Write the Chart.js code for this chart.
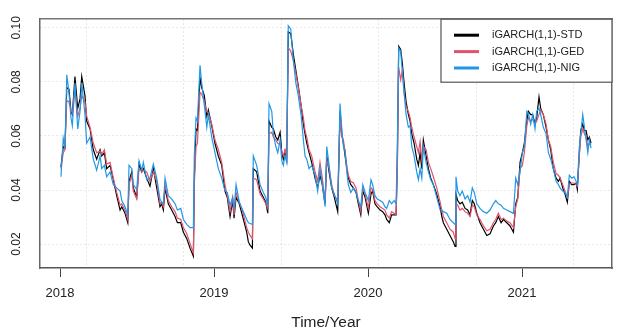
<!DOCTYPE html>
<html>
<head>
<meta charset="utf-8">
<title>iGARCH(1,1) volatility</title>
<script src="https://cdn.jsdelivr.net/npm/chart.js"></script>
<style>
  html, body { margin: 0; padding: 0; background: #fff; }
  canvas { display: block; }
</style>
</head>
<body>
<canvas id="chart" width="619" height="332"></canvas>
<script>
// time in decimal years
var years = [2018.006, 2018.021, 2018.032, 2018.044, 2018.058, 2018.071, 2018.080, 2018.097, 2018.115, 2018.130, 2018.141, 2018.162, 2018.173, 2018.195, 2018.216, 2018.238, 2018.260, 2018.271, 2018.288, 2018.303, 2018.325, 2018.346, 2018.368, 2018.390, 2018.401, 2018.422, 2018.440, 2018.448, 2018.466, 2018.476, 2018.498, 2018.513, 2018.531, 2018.541, 2018.563, 2018.584,
  2018.606, 2018.628, 2018.649, 2018.660, 2018.671, 2018.682, 2018.703, 2018.725, 2018.747, 2018.762, 2018.784, 2018.801, 2018.823, 2018.844, 2018.866, 2018.872, 2018.883, 2018.892, 2018.909, 2018.920, 2018.937, 2018.953, 2018.963, 2018.985, 2019.006, 2019.028, 2019.050, 2019.071, 2019.086, 2019.104, 2019.121, 2019.130, 2019.143, 2019.164, 2019.186, 2019.212,
  2019.223, 2019.234, 2019.249, 2019.255, 2019.277, 2019.299, 2019.320, 2019.336, 2019.349, 2019.357, 2019.375, 2019.385, 2019.401, 2019.414, 2019.429, 2019.440, 2019.450, 2019.461, 2019.472, 2019.482, 2019.498, 2019.515, 2019.531, 2019.547, 2019.565, 2019.580, 2019.591, 2019.602, 2019.617, 2019.634, 2019.656, 2019.673, 2019.688, 2019.703, 2019.721, 2019.732, 2019.747, 2019.764, 2019.781, 2019.803,
  2019.818, 2019.829, 2019.840, 2019.851, 2019.862, 2019.872, 2019.888, 2019.905, 2019.922, 2019.937, 2019.953, 2019.966, 2019.981, 2020.002, 2020.019, 2020.030, 2020.045, 2020.060, 2020.078, 2020.095, 2020.110, 2020.121, 2020.138, 2020.153, 2020.169, 2020.182, 2020.190, 2020.199, 2020.212, 2020.223, 2020.234, 2020.247, 2020.262, 2020.273, 2020.284, 2020.299, 2020.316, 2020.327, 2020.338, 2020.349, 2020.359, 2020.377, 2020.392, 2020.407, 2020.424, 2020.446, 2020.468,
  2020.479, 2020.489, 2020.511, 2020.532, 2020.554, 2020.565, 2020.571, 2020.582, 2020.597, 2020.612, 2020.630, 2020.647, 2020.662, 2020.677, 2020.690, 2020.706, 2020.727, 2020.749, 2020.771, 2020.792, 2020.814, 2020.829, 2020.846, 2020.864, 2020.879, 2020.901, 2020.922, 2020.944, 2020.959, 2020.972, 2020.987, 2021.002, 2021.015,
  2021.031, 2021.041, 2021.056, 2021.069, 2021.084, 2021.095, 2021.110, 2021.121, 2021.138, 2021.156, 2021.171, 2021.186, 2021.203, 2021.221, 2021.236, 2021.247, 2021.264, 2021.279, 2021.294, 2021.307, 2021.323, 2021.338, 2021.351, 2021.359, 2021.372, 2021.381, 2021.394, 2021.405, 2021.416, 2021.427, 2021.437, 2021.448];

var std = [.0485, .0561, .0555, .0779, .0773, .0691, .0679, .0820, .0702, .0737, .0820, .0749, .0655, .0626, .0549, .0514, .0549, .0526, .0538, .0479, .0491, .0438, .0379, .0326, .0338, .0314, .0279, .0432, .0467, .0408, .0373, .0496, .0467, .0479, .0444, .0414,
  .0479, .0408, .0338, .0349, .0326, .0408, .0349, .0326, .0302, .0279, .0279, .0244, .0220, .0185, .0155, .0444, .0626, .0620, .0814, .0779, .0749, .0673, .0696, .0638, .0573, .0526, .0491, .0396, .0373, .0302, .0361, .0296, .0373, .0349, .0302, .0244,
  .0208, .0196, .0185, .0479, .0467, .0396, .0373, .0355, .0314, .0655, .0632, .0626, .0596, .0585, .0614, .0538, .0514, .0544, .0514, .0985, .0979, .0902, .0844, .0785, .0714, .0644, .0608, .0573, .0538, .0502, .0444, .0408, .0455, .0420, .0349, .0526, .0467, .0408, .0373, .0320,
  .0691, .0608, .0573, .0526, .0479, .0444, .0420, .0408, .0391, .0349, .0308, .0396, .0373, .0314, .0385, .0396, .0349, .0338, .0326, .0320, .0308, .0291, .0279, .0308, .0308, .0308, .0491, .0932, .0920, .0867, .0796, .0726, .0679, .0655, .0608, .0573, .0514, .0491, .0538, .0479, .0585, .0526, .0479, .0444, .0420, .0385, .0338,
  .0302, .0279, .0255, .0232, .0208, .0191, .0385, .0361, .0349, .0355, .0332, .0326, .0308, .0361, .0349, .0314, .0279, .0255, .0232, .0238, .0267, .0279, .0302, .0279, .0291, .0279, .0267, .0244, .0349, .0373, .0502, .0538, .0573,
  .0655, .0691, .0679, .0679, .0644, .0667, .0744, .0702, .0679, .0632, .0585, .0549, .0479, .0444, .0432, .0444, .0408, .0385, .0355, .0432, .0420, .0420, .0426, .0402, .0538, .0620, .0644, .0620, .0620, .0585, .0596, .0573];

var ged = [.0479, .0538, .0549, .0732, .0726, .0696, .0685, .0773, .0673, .0702, .0749, .0726, .0673, .0632, .0573, .0538, .0544, .0532, .0549, .0496, .0502, .0444, .0391, .0344, .0349, .0326, .0291, .0420, .0455, .0396, .0367, .0479, .0467, .0473, .0467, .0432,
  .0467, .0432, .0349, .0355, .0338, .0420, .0361, .0338, .0320, .0296, .0291, .0261, .0238, .0202, .0167, .0420, .0561, .0573, .0761, .0755, .0726, .0691, .0685, .0644, .0585, .0549, .0502, .0420, .0379, .0320, .0373, .0308, .0391, .0355, .0320, .0261,
  .0244, .0232, .0220, .0444, .0438, .0385, .0367, .0349, .0332, .0608, .0614, .0596, .0585, .0573, .0567, .0544, .0526, .0549, .0520, .0926, .0914, .0879, .0832, .0779, .0714, .0667, .0620, .0596, .0549, .0526, .0467, .0432, .0502, .0444, .0361, .0514, .0479, .0420, .0379, .0361,
  .0667, .0596, .0585, .0538, .0491, .0455, .0432, .0426, .0408, .0361, .0320, .0408, .0385, .0332, .0408, .0402, .0361, .0349, .0338, .0332, .0326, .0308, .0296, .0320, .0314, .0308, .0467, .0855, .0808, .0844, .0761, .0708, .0691, .0667, .0632, .0596, .0561, .0538, .0579, .0514, .0561, .0549, .0502, .0479, .0449, .0408, .0355,
  .0326, .0302, .0279, .0255, .0244, .0220, .0349, .0344, .0326, .0332, .0320, .0314, .0302, .0344, .0338, .0308, .0291, .0267, .0249, .0255, .0279, .0291, .0314, .0291, .0296, .0285, .0279, .0261, .0338, .0367, .0479, .0491, .0538,
  .0638, .0667, .0655, .0661, .0644, .0655, .0679, .0696, .0679, .0644, .0585, .0561, .0502, .0461, .0455, .0444, .0420, .0396, .0373, .0420, .0426, .0426, .0420, .0414, .0526, .0596, .0626, .0608, .0596, .0561, .0573, .0567];

var nig = [.0449, .0591, .0555, .0826, .0761, .0667, .0638, .0796, .0626, .0691, .0796, .0679, .0573, .0596, .0514, .0473, .0526, .0479, .0491, .0449, .0467, .0420, .0408, .0396, .0361, .0338, .0308, .0491, .0479, .0420, .0402, .0508, .0473, .0502, .0438, .0444,
  .0496, .0444, .0367, .0355, .0349, .0444, .0379, .0367, .0349, .0326, .0332, .0291, .0273, .0261, .0261, .0526, .0667, .0655, .0861, .0796, .0714, .0632, .0679, .0596, .0538, .0479, .0444, .0396, .0391, .0344, .0373, .0326, .0420, .0355, .0326, .0291,
  .0279, .0276, .0273, .0526, .0491, .0420, .0391, .0373, .0344, .0720, .0691, .0608, .0561, .0538, .0585, .0508, .0491, .0526, .0502, .1008, .0996, .0879, .0796, .0749, .0679, .0585, .0526, .0514, .0479, .0491, .0455, .0396, .0479, .0420, .0338, .0561, .0491, .0408, .0385, .0349,
  .0720, .0632, .0561, .0549, .0467, .0420, .0391, .0408, .0391, .0361, .0338, .0420, .0391, .0361, .0438, .0420, .0379, .0367, .0361, .0355, .0338, .0332, .0361, .0349, .0361, .0349, .0561, .0926, .0914, .0832, .0761, .0679, .0632, .0638, .0561, .0526, .0467, .0438, .0479, .0444, .0561, .0502, .0467, .0438, .0420, .0373, .0326,
  .0326, .0320, .0314, .0291, .0279, .0273, .0449, .0396, .0379, .0396, .0367, .0379, .0355, .0408, .0391, .0349, .0332, .0320, .0314, .0326, .0349, .0361, .0349, .0344, .0332, .0326, .0320, .0314, .0444, .0420, .0467, .0538, .0561,
  .0691, .0685, .0644, .0679, .0626, .0691, .0702, .0679, .0632, .0608, .0538, .0514, .0479, .0432, .0420, .0408, .0396, .0391, .0373, .0455, .0444, .0449, .0432, .0420, .0561, .0608, .0679, .0632, .0585, .0538, .0585, .0555];

var seriesNames = ['iGARCH(1,1)-STD', 'iGARCH(1,1)-GED', 'iGARCH(1,1)-NIG'];
var seriesColors = ['#000000', '#DF536B', '#2297E6'];
var yearTicks = [2018, 2019, 2020, 2021];
var gridYears = [2018.169, 2018.801, 2019.435, 2020.068, 2020.701, 2021.333];
var yTicks = [0.02, 0.04, 0.06, 0.08, 0.10];

var FONT = "'Liberation Sans', Arial, Helvetica, sans-serif";

function toPoints(vals) {
  return years.map(function (x, i) { return { x: x, y: vals[i] }; });
}

var allSeries = [std, ged, nig];
var datasets = allSeries.map(function (vals, i) {
  return {
    label: seriesNames[i],
    data: toPoints(vals),
    borderColor: seriesColors[i],
    borderWidth: 1.2,
    pointRadius: 0,
    tension: 0,
    fill: false,
    order: 3 - i
  };
});

// legend box drawn in the top right corner of the plot
var boxLegend = {
  id: 'boxLegend',
  afterDraw: function (chart) {
    var ctx = chart.ctx, area = chart.chartArea;
    var w = 171, h = 63;
    var x0 = area.right - w, y0 = area.top;
    ctx.save();
    ctx.fillStyle = '#fff';
    ctx.fillRect(x0, y0, w, h);
    ctx.strokeStyle = '#555';
    ctx.lineWidth = 1.2;
    ctx.strokeRect(x0, y0, w, h);
    ctx.font = '11px ' + FONT;
    ctx.textBaseline = 'middle';
    ctx.textAlign = 'left';
    chart.data.datasets.forEach(function (ds, i) {
      var y = y0 + 16 + i * 16.4;
      ctx.strokeStyle = ds.borderColor;
      ctx.lineWidth = 3;
      ctx.beginPath();
      ctx.moveTo(x0 + 13, y);
      ctx.lineTo(x0 + 38, y);
      ctx.stroke();
      ctx.fillStyle = '#222';
      ctx.fillText(ds.label, x0 + 51, y);
    });
    ctx.restore();
  }
};

var chart = new Chart(document.getElementById('chart').getContext('2d'), {
  type: 'line',
  data: { datasets: datasets },
  options: {
    responsive: false,
    animation: false,
    devicePixelRatio: 1,
    layout: { padding: { left: 0, right: 7, top: 8, bottom: 0 } },
    plugins: {
      legend: { display: false },
      tooltip: { enabled: false }
    },
    scales: {
      x: {
        type: 'linear',
        position: 'bottom',
        min: 2017.870,
        max: 2021.584,
        afterBuildTicks: function (s) { s.ticks = yearTicks.map(function (v) { return { value: v }; }); },
        afterFit: function (s) { s.height = 64; },
        ticks: {
          color: '#222',
          padding: 9,
          font: { family: FONT, size: 13 },
          maxRotation: 0,
          callback: function (v) { return String(v); }
        },
        grid: { drawOnChartArea: false, drawTicks: true, tickLength: 9, tickColor: '#444', tickWidth: 1 },
        border: { display: true, color: '#555', width: 1.5 },
        title: {
          display: true,
          text: 'Time/Year',
          color: '#222',
          font: { family: FONT, size: 15.5 },
          padding: { top: 0, bottom: 0 }
        }
      },
      xgrid: {
        type: 'linear',
        position: 'top',
        min: 2017.870,
        max: 2021.584,
        afterBuildTicks: function (s) { s.ticks = gridYears.map(function (v) { return { value: v }; }); },
        afterFit: function (s) { s.height = 0; },
        ticks: { display: false },
        grid: { drawOnChartArea: true, drawTicks: false, color: '#cfcfcf', lineWidth: 1 },
        border: { display: true, color: '#777', width: 1.5, dash: [1, 3] }
      },
      y: {
        type: 'linear',
        position: 'left',
        min: 0.01115,
        max: 0.10319,
        afterBuildTicks: function (s) { s.ticks = yTicks.map(function (v) { return { value: v }; }); },
        afterFit: function (s) { s.width = 40; },
        ticks: {
          color: '#222',
          padding: 12,
          minRotation: 90,
          maxRotation: 90,
          crossAlign: 'center',
          font: { family: FONT, size: 12 },
          callback: function (v) { return v.toFixed(2); }
        },
        grid: { drawOnChartArea: true, drawTicks: false, color: '#cfcfcf', lineWidth: 1 },
        border: { display: true, color: '#666', width: 1.5, dash: [1, 3] }
      },
      yright: {
        type: 'linear',
        position: 'right',
        min: 0.01115,
        max: 0.10319,
        afterFit: function (s) { s.width = 0; },
        ticks: { display: false },
        grid: { display: false, drawTicks: false },
        border: { display: true, color: '#666', width: 1.5 }
      }
    }
  },
  plugins: [boxLegend]
});
</script>
</body>
</html>
